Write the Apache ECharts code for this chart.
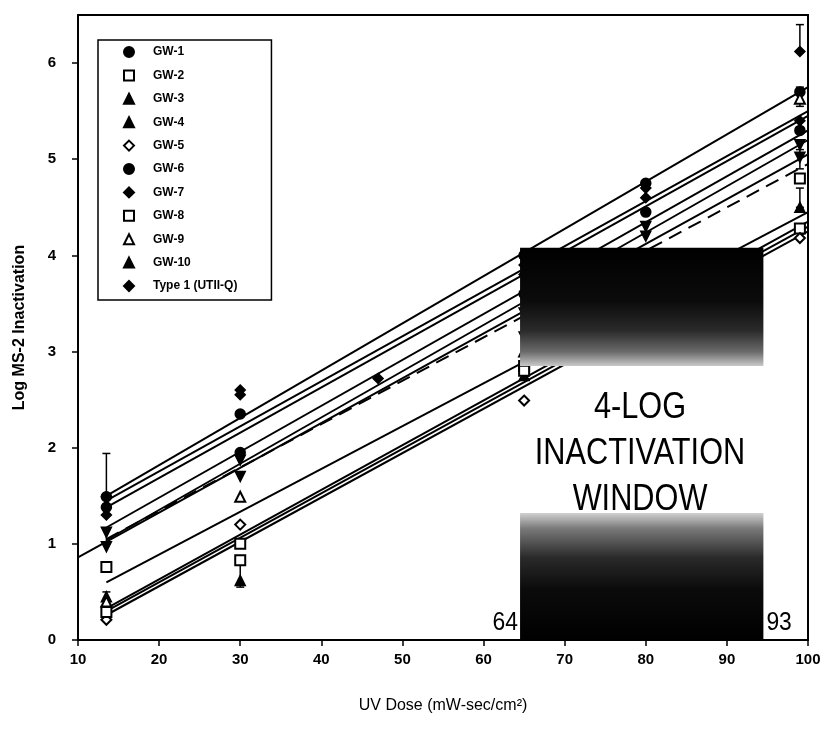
<!DOCTYPE html>
<html><head><meta charset="utf-8">
<script src="https://cdn.jsdelivr.net/npm/echarts@6/dist/echarts.min.js"></script>
<style>html,body{margin:0;padding:0;background:#fff}#c{width:827px;height:738px}</style>
</head><body><div id="c"></div>
<script>
// ---- data ----
const doses = [13.5, 30, 47, 65, 80, 99];
const seriesNames = ['GW-1','GW-2','GW-3','GW-4','GW-5','GW-6','GW-7','GW-8','GW-9','GW-10','Type 1 (UTII-Q)'];
const gw1  = [1.49, 2.35, null, 4.00, 4.75, 5.70];
const gw2  = [0.76, 1.00, null, 2.85, 3.70, 4.28];
const gw3  = [0.45, 0.62, null, 2.75, 3.55, 4.50];
const gw4  = [1.12, 1.87, null, 3.40, 4.30, 5.15];
const gw5  = [0.21, 1.20, null, 2.49, 3.50, 4.18];
const gw6  = [1.38, 1.95, null, 3.60, 4.45, 5.30];
const gw7  = [1.30, 2.55, null, 3.80, 4.60, 5.40];
const gw8  = [0.29, 0.83, null, 2.80, 3.65, 4.80];
const gw9  = [0.40, 1.49, null, 3.00, 3.90, 5.63];
const gw10 = [0.97, 1.70, null, 3.15, 4.20, 5.02];
const type1 = [1.49, 2.60, 2.72, 3.90, 4.70, 6.12];
const seriesValues = [gw1, gw2, gw3, gw4, gw5, gw6, gw7, gw8, gw9, gw10, type1];
// fitted regression lines (start x, start y, end y at x = 100)
const fitX0 = [13.5, 13.5, 13.5, 13.5, 13.5, 13.5, 13.5, 13.5, 13.5, 10, 13.5];
const fitY0 = [1.45, 0.60, 0.30, 1.04, 0.26, 1.17, 1.38, 0.33, 1.05, 0.86, 1.50];
const fitX1 = 100;
const fitY1 = [5.50, 4.45, 4.30, 5.20, 4.25, 5.30, 5.45, 4.35, 4.95, 5.05, 5.75];
// error bars
const errX    = [13.5, 13.5, 13.5, 30, 99, 99, 99, 99];
const errLow  = [1.50, 1.00, 0.30, 0.55, 6.12, 5.55, 4.90, 4.50];
const errHigh = [1.94, 1.15, 0.50, 0.83, 6.40, 5.75, 5.10, 4.70];
// 4-log inactivation window
const windowX = [64.5, 94.5];
const windowUpperY = [2.85, 4.08];
const windowLowerY = [0, 1.32];
const windowEdgeLabels = ['64', '93'];
const windowText = ['4-LOG', 'INACTIVATION', 'WINDOW'];
const xTicks = [10, 100, 10];
const yTicks = [0, 6.5, 1];

// ---- style ----
const FF = "'Liberation Sans Narrow','Liberation Sans',Arial,sans-serif";
const symbols = ['circle','emptyRect','triangle','triangle','emptyDiamond','circle','diamond','emptyRect','emptyTriangle','triangle','diamond'];
const rotations = [0,0,0,180,0,0,0,0,0,180,0];

const chart = echarts.init(document.getElementById('c'), null, {renderer:'canvas'});

const series = [];
// fit lines
seriesNames.forEach((n, i) => {
  series.push({
    name: n + ' fit', type: 'line', silent: true, symbol: 'none', z: 2,
    data: [[fitX0[i], fitY0[i]], [fitX1, fitY1[i]]],
    lineStyle: { color: '#000', width: 2, type: i === 8 ? [14, 8] : 'solid' }
  });
});
// error bars
series.push({
  name: 'err', type: 'custom', silent: true, z: 3,
  data: errX.map((x, i) => [x, errLow[i], errHigh[i]]),
  encode: { x: 0, y: [1, 2] },
  renderItem: (params, api) => {
    const lo = api.coord([api.value(0), api.value(1)]);
    const hi = api.coord([api.value(0), api.value(2)]);
    const w = 4;
    const st = { stroke: '#000', lineWidth: 1.5 };
    return { type: 'group', children: [
      { type: 'line', shape: { x1: lo[0], y1: lo[1], x2: hi[0], y2: hi[1] }, style: st },
      { type: 'line', shape: { x1: hi[0]-w, y1: hi[1], x2: hi[0]+w, y2: hi[1] }, style: st },
      { type: 'line', shape: { x1: lo[0]-w, y1: lo[1], x2: lo[0]+w, y2: lo[1] }, style: st }
    ]};
  }
});
// points
seriesNames.forEach((n, i) => {
  series.push({
    name: n, type: 'scatter', z: 4,
    symbol: symbols[i], symbolRotate: rotations[i], symbolSize: 10,
    itemStyle: { color: '#000', borderColor: '#000', borderWidth: 1.5, opacity: 1 },
    data: doses.map((d, k) => seriesValues[i][k] == null ? null : [d, seriesValues[i][k]]).filter(v => v)
  });
});
// window boxes
function windowSeries(yr, stops) {
  return {
    name: 'window', type: 'custom', silent: true, z: 6,
    data: [[windowX[0], windowX[1], yr[0], yr[1]]],
    encode: { x: [0, 1], y: [2, 3] },
    renderItem: (params, api) => {
      const tl = api.coord([api.value(0), api.value(3)]);
      const br = api.coord([api.value(1), api.value(2)]);
      return { type: 'rect', shape: { x: tl[0], y: tl[1], width: br[0]-tl[0], height: br[1]-tl[1] },
        style: { fill: new echarts.graphic.LinearGradient(0, 0, 0, 1, stops) } };
    }
  };
}
series.push(windowSeries(windowUpperY, [
  {offset:0,color:'#000'},{offset:0.45,color:'#0b0b0b'},{offset:0.7,color:'#2a2a2a'},{offset:0.88,color:'#6a6a6a'},{offset:1,color:'#c8c8c8'}]));
series.push(windowSeries(windowLowerY, [
  {offset:0,color:'#d0d0d0'},{offset:0.12,color:'#7a7a7a'},{offset:0.35,color:'#2a2a2a'},{offset:0.6,color:'#0b0b0b'},{offset:1,color:'#000'}]));
// edge labels of the window
series.push({
  name: 'edges', type: 'custom', silent: true, z: 7,
  data: [[windowX[0], 0, 0], [windowX[1], 0, 1]],
  encode: { x: 0, y: 1 },
  renderItem: (params, api) => {
    const p = api.coord([api.value(0), api.value(1)]);
    const right = api.value(2) === 0;
    return { type: 'text', x: right ? p[0]-2 : p[0]+3, y: p[1]-4, scaleX: 0.88,
      style: { text: windowEdgeLabels[api.value(2)], fontSize: 26, fontFamily: FF, fill: '#000',
        align: right ? 'right' : 'left', verticalAlign: 'bottom' } };
  }
});

const axisFont = { color: '#000', fontSize: 15, fontWeight: 'bold', fontFamily: FF };

chart.setOption({
  animation: false,
  backgroundColor: '#fff',
  grid: { left: 78, right: 19, top: 15, bottom: 98, show: true, borderColor: '#000', borderWidth: 2 },
  legend: {
    orient: 'vertical', left: 98, top: 40,
    data: seriesNames,
    backgroundColor: '#fff', borderColor: '#000', borderWidth: 1.5,
    padding: [6, 34, 8, 25], itemWidth: 10, itemHeight: 10, itemGap: 11.4,
    textStyle: { color: '#000', fontSize: 12, fontWeight: 'bold', fontFamily: FF, padding: [0,0,0,14] },
    selectedMode: false, z: 10
  },
  xAxis: {
    type: 'value', min: xTicks[0], max: xTicks[1], interval: xTicks[2],
    axisLine: { lineStyle: { color: '#000', width: 2 } },
    axisTick: { length: 6, lineStyle: { color: '#000', width: 1.5 } },
    splitLine: { show: false },
    axisLabel: Object.assign({ margin: 12 }, axisFont),
    name: 'UV Dose (mW-sec/cm²)', nameLocation: 'middle', nameGap: 58,
    nameTextStyle: { color: '#000', fontSize: 16, fontFamily: FF }
  },
  yAxis: {
    type: 'value', min: yTicks[0], max: yTicks[1], interval: yTicks[2],
    axisLine: { lineStyle: { color: '#000', width: 2 } },
    axisTick: { length: 6, lineStyle: { color: '#000', width: 1.5 } },
    splitLine: { show: false },
    axisLabel: Object.assign({ margin: 22, showMaxLabel: false }, axisFont),
    name: 'Log MS-2 Inactivation', nameLocation: 'middle', nameGap: 50,
    nameTextStyle: { color: '#000', fontSize: 16, fontWeight: 'bold', fontFamily: FF }
  },
  graphic: windowText.map((t, i) => ({
    type: 'text', x: 640, y: 408 + i * 46, z: 100, scaleX: 0.83,
    style: { text: t, fontSize: 37, fontFamily: FF, fill: '#000', align: 'center', verticalAlign: 'middle' }
  })),
  series: series
});
</script></body></html>
